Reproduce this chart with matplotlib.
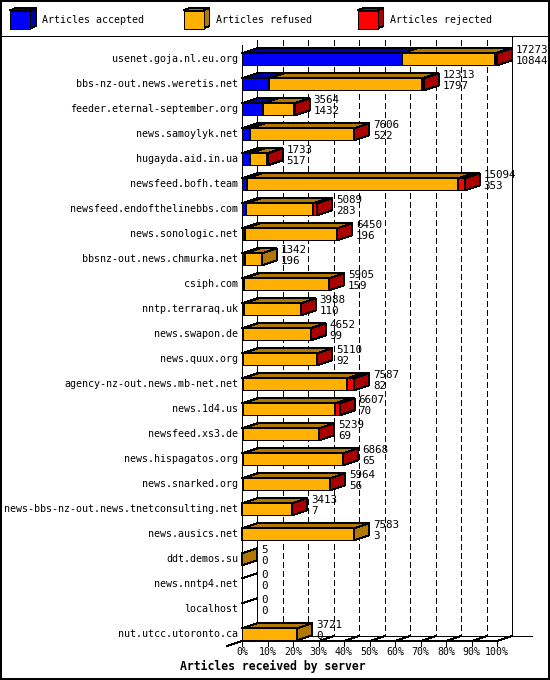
import matplotlib
matplotlib.use("Agg")
import matplotlib.pyplot as plt
from matplotlib.patches import Polygon, Rectangle

# ---- data ----
servers = [
    "usenet.goja.nl.eu.org", "bbs-nz-out.news.weretis.net", "feeder.eternal-september.org",
    "news.samoylyk.net", "hugayda.aid.in.ua", "newsfeed.bofh.team",
    "newsfeed.endofthelinebbs.com", "news.sonologic.net", "bbsnz-out.news.chmurka.net",
    "csiph.com", "nntp.terraraq.uk", "news.swapon.de", "news.quux.org",
    "agency-nz-out.news.mb-net.net", "news.1d4.us", "newsfeed.xs3.de",
    "news.hispagatos.org", "news.snarked.org", "news-bbs-nz-out.news.tnetconsulting.net",
    "news.ausics.net", "ddt.demos.su", "news.nntp4.net", "localhost", "nut.utcc.utoronto.ca",
]
total = [17273, 12313, 3564, 7606, 1733, 15094, 5089, 6450, 1342, 5905, 3988, 4652,
         5110, 7587, 6607, 5239, 6868, 5964, 3413, 7583, 5, 0, 0, 3721]
accepted = [10844, 1797, 1432, 522, 517, 353, 283, 196, 196, 159, 110, 99,
            92, 82, 70, 69, 65, 56, 7, 3, 0, 0, 0, 0]
refused = [6309, 10416, 2112, 7064, 1206, 14271, 4516, 6244, 1146, 5736, 3868, 4543,
           5008, 7025, 6257, 5160, 6793, 5898, 3396, 7580, 5, 0, 0, 3721]
rejected = [120, 100, 20, 20, 10, 470, 290, 10, 0, 10, 10, 10,
            10, 480, 280, 10, 10, 10, 10, 0, 0, 0, 0, 0]
series_names = ["Articles accepted", "Articles refused", "Articles rejected"]
x_ticks = [0, 10, 20, 30, 40, 50, 60, 70, 80, 90, 100]

# ---- styling ----
FACE = ["#0000ff", "#ffb000", "#ff0000"]
SHADE = ["#0000a8", "#b07800", "#aa0000"]
MONO = "DejaVu Sans Mono"
plt.rcParams["lines.scale_dashes"] = False

W, H = 550, 680
X0, PX = 242.0, 2.55       # pixel of 0 %, pixels per percent
Y0, ROW = 59.3, 25.0       # pixel of first bar centre, pixels per row
DX, DY = 15 / PX, 5 / ROW  # 3d depth
BAR_H = 12 / ROW
LW = 0.72


def px_x(p):
    return (p - X0) / PX


def px_y(p):
    return (p - Y0) / ROW


fig = plt.figure(figsize=(W / 100, H / 100), dpi=100)
ax = fig.add_axes([0, 0, 1, 1])
ax.set_xlim(px_x(0), px_x(W))
ax.set_ylim(px_y(H), px_y(0))
ax.axis("off")

n = len(servers)
top_front = px_y(45)
floor = n - 1 + 0.27
k = dict(color="black", lw=LW, antialiased=False, solid_capstyle="butt")

# back walls, floor and grid
ax.plot([0, 0], [top_front, floor], zorder=1, **k)
ax.plot([DX, DX], [top_front - DY, floor - DY], zorder=1, **k)
ax.plot([100 + DX, 100 + DX], [px_y(36), floor - DY], zorder=1, **k)
ax.plot([DX, px_x(532)], [floor - DY, floor - DY], zorder=1, **k)
ax.plot([-DX, 0, 100, 100 + DX], [floor + DY, floor, floor, floor - DY], zorder=1, **k)
for t in x_ticks:
    ax.plot([t, t], [floor, floor + DY], zorder=1, **k)
    ax.text(t, px_y(652), f"{t}%", family=MONO, fontsize=7.1, ha="center", va="center")
    if 0 < t < 100:
        ax.plot([t + DX, t + DX], [top_front - DY, floor - DY], dashes=(3.6, 2.2),
                color="black", lw=LW, antialiased=False, zorder=1)
        ax.plot([t, t + DX], [floor, floor - DY], zorder=1, **k)


def box(x0, x1, yc, i):
    yt, yb = yc - BAR_H / 2, yc + BAR_H / 2
    pk = dict(ec="black", lw=LW, closed=True, antialiased=False, zorder=3, joinstyle="miter")
    ax.add_patch(Polygon([(x0, yt), (x1, yt), (x1, yb), (x0, yb)], fc=FACE[i], **pk))
    ax.add_patch(Polygon([(x0, yt), (x0 + DX, yt - DY), (x1 + DX, yt - DY), (x1, yt)], fc=SHADE[i], **pk))
    ax.add_patch(Polygon([(x1, yt), (x1 + DX, yt - DY), (x1 + DX, yb - DY), (x1, yb)], fc=SHADE[i], **pk))


vmax = max(total)
for r in range(n):
    left = 0.0
    vals = [accepted[r], refused[r], rejected[r]]
    for i, v in enumerate(vals):
        if v <= 0:
            continue
        w = v / vmax * 100
        box(left, left + w, r, i)
        left += w
    if sum(vals) == 0:
        yt = r - BAR_H / 2
        ax.plot([0, DX], [yt, yt - DY], zorder=3, **k)
    ax.text(-1.6, r, servers[r], family=MONO, fontsize=7.2, ha="right", va="center")
    ax.text(left + DX + 1.5, r - 9 / ROW, str(total[r]), family=MONO, fontsize=7.8,
            ha="left", va="center", zorder=4)
    ax.text(left + DX + 1.5, r + 2 / ROW, str(accepted[r]), family=MONO, fontsize=7.8,
            ha="left", va="center", zorder=4)

ax.text(px_x(273), px_y(666), "Articles received by server", family=MONO,
        fontsize=8.3, weight="bold", ha="center", va="center")

# legend
ax.plot([px_x(0), px_x(W)], [px_y(35.5), px_y(35.5)], **k)
leg_x = [10, 183.5, 357.5]
for i, name in enumerate(series_names):
    x0, x1 = px_x(leg_x[i]), px_x(leg_x[i] + 20)
    yt, yb = px_y(10.5), px_y(28.5)
    lx, ly = 6 / PX, 2.5 / ROW
    pk = dict(ec="black", lw=LW, closed=True, antialiased=False, joinstyle="miter")
    ax.add_patch(Polygon([(x0, yt), (x0 + lx, yt - ly), (x1 + lx, yt - ly), (x1, yt)], fc=SHADE[i], **pk))
    ax.add_patch(Polygon([(x1, yt), (x1 + lx, yt - ly), (x1 + lx, yb - ly), (x1, yb)], fc=SHADE[i], **pk))
    ax.add_patch(Polygon([(x0, yt), (x1, yt), (x1, yb), (x0, yb)], fc=FACE[i], **pk))
    ax.text(px_x(leg_x[i] + 32), px_y(20), name, family=MONO, fontsize=7.2,
            ha="left", va="center")

# outer frame (half of the stroke falls outside the canvas -> 1px border)
fig.patches.append(Rectangle((0, 0), 1, 1, transform=fig.transFigure, fill=False,
                             ec="black", lw=1.6, antialiased=False))

fig.savefig("out.png", dpi=100)
